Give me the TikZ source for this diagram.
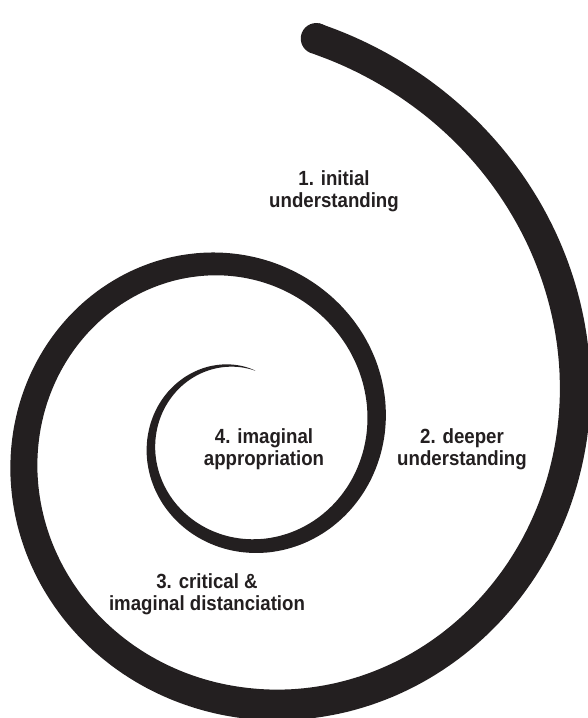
\documentclass[tikz,border=0pt]{standalone}
\usepackage{fontspec}
\setmainfont{Liberation Sans}
\newfontfamily\lblfont[FakeStretch=0.91]{Liberation Sans Bold}
\definecolor{ink}{HTML}{231F20}
\begin{document}
\begin{tikzpicture}[x=1pt,y=-1pt,
  declare function={rr(\t)=416*0.8^(\t/90);
                    ww(\t)=31*(max(0.001,min(1,(734-\t)/554)))^0.8;},
  spiral/.style={fill=ink},
  lbl/.style={text=ink,align=center,inner sep=0pt,
              font=\lblfont\fontsize{20.5}{21.7}\selectfont}]
\useasboundingbox (0,0) rectangle (587,718);
% spiral body (log spiral, centre (239,436))
\fill[spiral] plot[smooth,domain=11:734,samples=300,variable=\t]
   ({239+(rr(\t)+ww(\t)/2)*sin(\t)},{436-(rr(\t)+ww(\t)/2)*cos(\t)})
   -- plot[smooth,domain=734:11,samples=300,variable=\t]
   ({239+(rr(\t)-ww(\t)/2)*sin(\t)},{436-(rr(\t)-ww(\t)/2)*cos(\t)})
   -- cycle;
% rounded start cap
\fill[spiral] ({239+rr(11)*sin(11)},{436-rr(11)*cos(11)}) circle[radius=15.5];
% labels
\node[lbl] (l1) at (334,191) {1. initial\\understanding};
\node[lbl] (l2) at (462,449) {2. deeper\\understanding};
\node[lbl] (l4) at (264,449) {4. imaginal\\appropriation};
\node[lbl] (l3) at (207,594) {3. critical \&\\imaginal distanciation};
\end{tikzpicture}
\end{document}
